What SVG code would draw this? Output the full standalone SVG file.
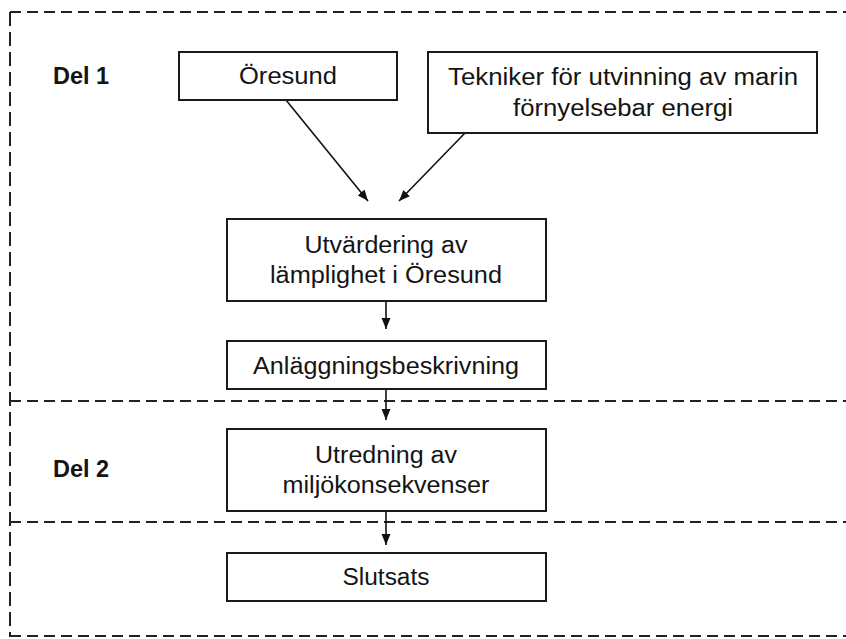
<svg xmlns="http://www.w3.org/2000/svg" width="846" height="639" viewBox="0 0 846 639">
<style>
.bg{fill:#ffffff}
.box{fill:#ffffff;stroke:#1a1a1a;stroke-width:2}
.t{font-family:"Liberation Sans",Arial,sans-serif;font-size:23.5px;fill:#141414;text-anchor:middle}
.lbl{font-family:"Liberation Sans",Arial,sans-serif;font-size:23.5px;font-weight:bold;fill:#141414}
.dh{stroke:#222;stroke-width:2;stroke-dasharray:11 6;fill:none}
.dv{stroke:#222;stroke-width:2;stroke-dasharray:14 6;fill:none}
.con{stroke:#111;stroke-width:1.6;fill:none;marker-end:url(#ah)}
</style>
<defs>
<marker id="ah" markerUnits="userSpaceOnUse" markerWidth="12" markerHeight="10" refX="11" refY="4.5" orient="auto">
<path d="M0,0 L11,4.5 L0,9 z" fill="#111"/>
</marker>
</defs>
<rect class="bg" x="0" y="0" width="846" height="639"/>
<g id="frame">
<line class="dh" x1="10" y1="12" x2="846" y2="12"/>
<line class="dv" x1="10" y1="12" x2="10" y2="637"/>
<line class="dh" x1="10" y1="401" x2="846" y2="401"/>
<line class="dh" x1="10" y1="522" x2="846" y2="522"/>
<line class="dh" x1="10" y1="636" x2="846" y2="636"/>
</g>
<g id="labels">
<text class="lbl" x="53" y="84">Del 1</text>
<text class="lbl" x="53" y="477">Del 2</text>
</g>
<g id="connectors">
<line class="con" x1="286" y1="100" x2="368" y2="201"/>
<line class="con" x1="465" y1="133" x2="399" y2="201"/>
<line class="con" x1="386" y1="301" x2="386" y2="329"/>
<line class="con" x1="386" y1="389" x2="386" y2="420"/>
<line class="con" x1="386" y1="511" x2="386" y2="545"/>
</g>
<g id="oresund">
<rect class="box" x="179" y="52" width="218" height="48"/>
<text class="t" x="288" y="84" textLength="98" lengthAdjust="spacingAndGlyphs">Öresund</text>
</g>
<g id="tekniker">
<rect class="box" x="428" y="52" width="389" height="81"/>
<text class="t" x="623" y="85" textLength="350" lengthAdjust="spacingAndGlyphs">Tekniker för utvinning av marin</text>
<text class="t" x="623" y="116" textLength="220" lengthAdjust="spacingAndGlyphs">förnyelsebar energi</text>
</g>
<g id="utvardering">
<rect class="box" x="227" y="219" width="319" height="82"/>
<text class="t" x="386" y="253" textLength="163" lengthAdjust="spacingAndGlyphs">Utvärdering av</text>
<text class="t" x="386" y="283" textLength="232" lengthAdjust="spacingAndGlyphs">lämplighet i Öresund</text>
</g>
<g id="anlaggning">
<rect class="box" x="227" y="341" width="319" height="48"/>
<text class="t" x="386" y="374" textLength="266" lengthAdjust="spacingAndGlyphs">Anläggningsbeskrivning</text>
</g>
<g id="utredning">
<rect class="box" x="227" y="429" width="319" height="82"/>
<text class="t" x="386" y="463" textLength="142" lengthAdjust="spacingAndGlyphs">Utredning av</text>
<text class="t" x="386" y="493" textLength="207" lengthAdjust="spacingAndGlyphs">miljökonsekvenser</text>
</g>
<g id="slutsats">
<rect class="box" x="227" y="553" width="319" height="48"/>
<text class="t" x="386" y="585" textLength="87" lengthAdjust="spacingAndGlyphs">Slutsats</text>
</g>
</svg>
